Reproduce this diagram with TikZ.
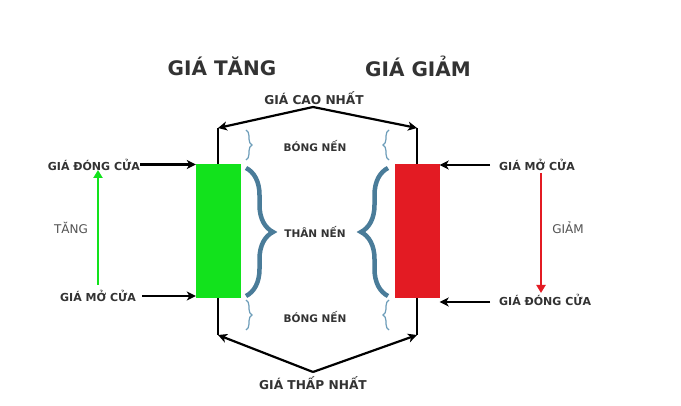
\documentclass[tikz,border=0pt]{standalone}
\usepackage{fontspec}
\setmainfont{DejaVu Sans}
\usetikzlibrary{arrows.meta,decorations.pathreplacing}
\definecolor{txt}{HTML}{333333}
\definecolor{bull}{HTML}{12E21C}
\definecolor{bear}{HTML}{E31B23}
\definecolor{brc}{HTML}{4A7C99}
\definecolor{brcs}{HTML}{6E9EBA}
\tikzset{
  titletext/.style={font=\bfseries\fontsize{20}{23}\selectfont, text=txt, inner sep=0pt},
  lbl/.style={font=\bfseries\fontsize{10.5}{12}\selectfont, text=txt, inner sep=0pt},
  sidelbl/.style={font=\bfseries\fontsize{11}{13}\selectfont, text=txt, inner sep=0pt},
  hilo/.style={font=\bfseries\fontsize{12.2}{14}\selectfont, text=txt, inner sep=0pt},
  side/.style={font=\fontsize{12}{14}\selectfont, text=txt!85, inner sep=0pt},
  candle/.style={draw=none, minimum width=45pt, minimum height=134pt, inner sep=0pt},
  wick/.style={line width=2.2pt, black},
  arr/.style={line width=2.2pt, black, -{Stealth[length=9pt,width=9pt,inset=2.5pt]}},
  bigbrace/.style={decorate, decoration={brace, amplitude=27pt}, line width=4.5pt, brc},
  smallbrace/.style={decorate, decoration={brace, amplitude=6pt}, line width=1.2pt, brcs},
  trend/.style={line width=2.3pt, -{Triangle[length=8pt,width=9pt]}},
}
\begin{document}
\begin{tikzpicture}[x=1pt,y=-1pt]
\path[use as bounding box, fill=white] (0,0) rectangle (681,406);

% titles
\node[titletext] (tup) at (222,66) {GIÁ TĂNG};
\node[titletext] (tdown) at (418,66) {GIÁ GIẢM};

% high / low labels
\node[hilo] (high) at (314,98) {GIÁ CAO NHẤT};
\node[hilo] (low) at (313,383) {GIÁ THẤP NHẤT};
\coordinate (hp) at (313,107);
\coordinate (lp) at (313,372);

% wicks
\coordinate (gt) at (218,128);
\coordinate (gbm) at (218,335);
\coordinate (rt) at (417,128);
\coordinate (rbm) at (417,335);
\draw[wick] (gt) -- (gbm);
\draw[wick] (rt) -- (rbm);

% bodies
\node[candle, fill=bull] (gb) at (218.5,231) {};
\node[candle, fill=bear] (rb) at (417,231) {};

% high/low arrows
\draw[arr] (hp) -- (gt);
\draw[arr] (hp) -- (rt);
\draw[arr] (lp) -- (gbm);
\draw[arr] (lp) -- (rbm);

% left labels
\node[sidelbl, anchor=east] (lc) at (140,164.5) {GIÁ ĐÓNG CỬA};
\node[sidelbl, anchor=east] (lo) at (136,296) {GIÁ MỞ CỬA};
\draw[arr] (lc.east) -- (lc.east -| gb.west);
\draw[arr] ([xshift=6pt]lo.east) -- (lo.east -| gb.west);
\coordinate (ga1) at (98,285);
\coordinate (ga2) at (98,170);
\draw[trend, bull] (ga1) -- (ga2);
\node[side] (tang) at (71,228) {TĂNG};

% right labels
\node[sidelbl, anchor=west] (ro) at (499,165) {GIÁ MỞ CỬA};
\node[sidelbl, anchor=west] (rc) at (499,300) {GIÁ ĐÓNG CỬA};
\draw[arr] ([xshift=-9pt]ro.west) -- (ro.west -| rb.east);
\draw[arr] ([xshift=-9pt,yshift=-2pt]rc.west) -- ([yshift=-2pt]rc.west -| rb.east);
\coordinate (ra1) at (541,173);
\coordinate (ra2) at (541,293);
\draw[trend, bear] (ra1) -- (ra2);
\node[side] (giam) at (568,228) {GIẢM};

% braces
\draw[smallbrace] (246,130) -- (246,160);
\draw[smallbrace] (246,300) -- (246,330);
\draw[smallbrace] (389,160) -- (389,130);
\draw[smallbrace] (389,330) -- (389,300);
\draw[bigbrace] (246,168) -- (246,296);
\draw[bigbrace] (388,296) -- (388,168);

% middle labels
\node[lbl] (sh1) at (315,146) {BÓNG NẾN};
\node[lbl] (body) at (315,232) {THÂN NẾN};
\node[lbl] (sh2) at (315,317) {BÓNG NẾN};
\end{tikzpicture}
\end{document}
